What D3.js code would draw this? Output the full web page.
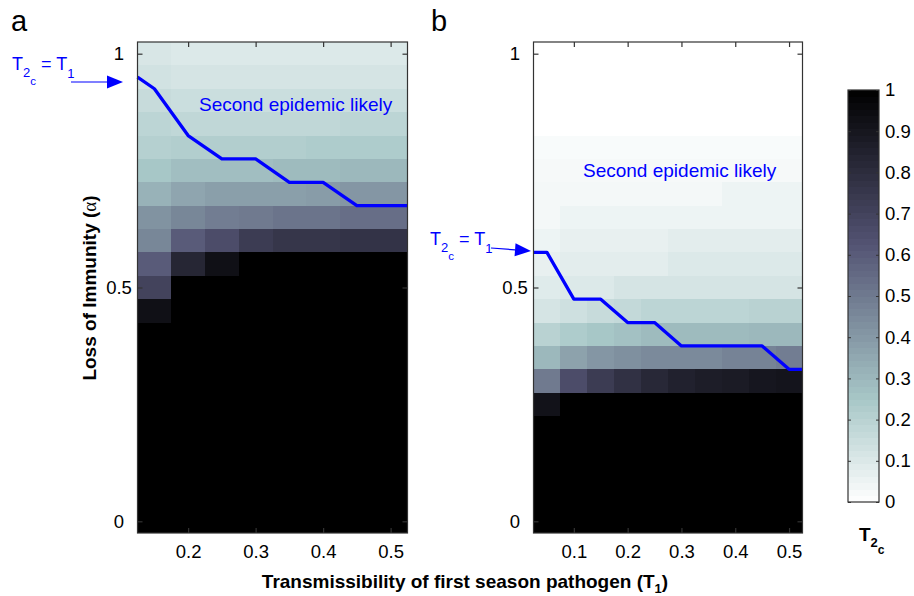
<!DOCTYPE html>
<html>
<head>
<meta charset="utf-8">
<script src="https://cdn.jsdelivr.net/npm/d3@7"></script>
<style>
  body { margin: 0; background: #fff; }
  text { font-family: "Liberation Sans", Arial, sans-serif; }
</style>
</head>
<body>
<svg id="svg" width="914" height="596"></svg>
<script>
// T1 columns and alpha rows (rows listed top -> bottom)
const tA = [0.15, 0.2, 0.25, 0.3, 0.35, 0.4, 0.45, 0.5];
const tB = [0.05, 0.1, 0.15, 0.2, 0.25, 0.3, 0.35, 0.4, 0.45, 0.5];
const alphas = [1, 0.95, 0.9, 0.85, 0.8, 0.75, 0.7, 0.65, 0.6, 0.55, 0.5,
                0.45, 0.4, 0.35, 0.3, 0.25, 0.2, 0.15, 0.1, 0.05, 0];

// T2c values, panel a
const zA = [
  [0.11, 0.10, 0.10, 0.10, 0.10, 0.10, 0.10, 0.10],
  [0.13, 0.12, 0.12, 0.12, 0.12, 0.12, 0.12, 0.12],
  [0.16, 0.15, 0.15, 0.15, 0.15, 0.15, 0.15, 0.15],
  [0.19, 0.18, 0.18, 0.18, 0.18, 0.18, 0.19, 0.19],
  [0.21, 0.22, 0.22, 0.22, 0.22, 0.23, 0.23, 0.23],
  [0.25, 0.28, 0.28, 0.28, 0.29, 0.29, 0.30, 0.30],
  [0.32, 0.36, 0.38, 0.38, 0.38, 0.39, 0.41, 0.41],
  [0.42, 0.46, 0.49, 0.50, 0.52, 0.52, 0.54, 0.54],
  [0.46, 0.60, 0.66, 0.73, 0.76, 0.76, 0.77, 0.77],
  [0.60, 0.83, 0.93, 1, 1, 1, 1, 1],
  [0.70, 1, 1, 1, 1, 1, 1, 1],
  [0.93, 1, 1, 1, 1, 1, 1, 1],
  [1, 1, 1, 1, 1, 1, 1, 1],
  [1, 1, 1, 1, 1, 1, 1, 1],
  [1, 1, 1, 1, 1, 1, 1, 1],
  [1, 1, 1, 1, 1, 1, 1, 1],
  [1, 1, 1, 1, 1, 1, 1, 1],
  [1, 1, 1, 1, 1, 1, 1, 1],
  [1, 1, 1, 1, 1, 1, 1, 1],
  [1, 1, 1, 1, 1, 1, 1, 1],
  [1, 1, 1, 1, 1, 1, 1, 1]
];

// T2c values, panel b
const zB = [
  [0, 0, 0, 0, 0, 0, 0, 0, 0, 0],
  [0, 0, 0, 0, 0, 0, 0, 0, 0, 0],
  [0, 0, 0, 0, 0, 0, 0, 0, 0, 0],
  [0, 0, 0, 0, 0, 0, 0, 0, 0, 0],
  [0.02, 0.02, 0.02, 0.02, 0.02, 0.02, 0.02, 0.02, 0.02, 0.02],
  [0.025, 0.025, 0.025, 0.025, 0.025, 0.025, 0.025, 0.025, 0.025, 0.025],
  [0.03, 0.03, 0.03, 0.03, 0.03, 0.03, 0.03, 0.05, 0.05, 0.05],
  [0.03, 0.05, 0.05, 0.05, 0.05, 0.05, 0.05, 0.05, 0.05, 0.05],
  [0.05, 0.065, 0.065, 0.065, 0.065, 0.08, 0.08, 0.08, 0.08, 0.08],
  [0.065, 0.08, 0.08, 0.08, 0.08, 0.10, 0.10, 0.10, 0.10, 0.10],
  [0.09, 0.10, 0.10, 0.12, 0.12, 0.12, 0.12, 0.12, 0.12, 0.12],
  [0.12, 0.14, 0.16, 0.17, 0.19, 0.19, 0.19, 0.19, 0.20, 0.20],
  [0.20, 0.23, 0.25, 0.27, 0.29, 0.29, 0.29, 0.29, 0.30, 0.30],
  [0.30, 0.37, 0.41, 0.43, 0.45, 0.45, 0.45, 0.47, 0.47, 0.49],
  [0.50, 0.66, 0.73, 0.78, 0.82, 0.85, 0.87, 0.88, 0.90, 0.91],
  [0.92, 1, 1, 1, 1, 1, 1, 1, 1, 1],
  [1, 1, 1, 1, 1, 1, 1, 1, 1, 1],
  [1, 1, 1, 1, 1, 1, 1, 1, 1, 1],
  [1, 1, 1, 1, 1, 1, 1, 1, 1, 1],
  [1, 1, 1, 1, 1, 1, 1, 1, 1, 1],
  [1, 1, 1, 1, 1, 1, 1, 1, 1, 1]
];

// T2c = T1 contour
const lineA_T = [0.125, 0.15, 0.2, 0.25, 0.3, 0.35, 0.4, 0.45, 0.525];
const lineA_alpha = [0.95, 0.925, 0.825, 0.775, 0.775, 0.725, 0.725, 0.675, 0.675];
const lineB_T = [0.025, 0.05, 0.1, 0.15, 0.2, 0.25, 0.3, 0.45, 0.5, 0.525];
const lineB_alpha = [0.575, 0.575, 0.475, 0.475, 0.425, 0.425, 0.375, 0.375, 0.325, 0.325];

const ticksA = [0.2, 0.3, 0.4, 0.5];
const ticksB = [0.1, 0.2, 0.3, 0.4, 0.5];
const ticksY = [0, 0.5, 1];
const ticksC = [0, 0.1, 0.2, 0.3, 0.4, 0.5, 0.6, 0.7, 0.8, 0.9, 1];

const svg = d3.select("#svg"),
    half = 0.025,
    frameCol = "#333",
    blue = "#0000ff";

// matlab bone colormap, flipped (0 -> white, 1 -> black)
function boneR(v) {
    const x = 1 - Math.max(0, Math.min(1, v)),
        hr = Math.min(1, x / 0.375),
        hg = Math.max(0, Math.min(1, (x - 0.375) / 0.375)),
        hb = Math.max(0, (x - 0.75) / 0.25);
    return d3.rgb(255 * (7 * x + hb) / 8, 255 * (7 * x + hg) / 8, 255 * (7 * x + hr) / 8).toString();
}

const y = d3.scaleLinear().domain([-0.025, 1.025]).range([533, 42]);

function panel(xs, tVals, z, lT, lA, xticks) {
    const g = svg.append("g");
    const cells = [];
    z.forEach((row, i) => row.forEach((v, j) => cells.push({t: tVals[j], a: alphas[i], v: v})));
    g.selectAll("rect.cell").data(cells).enter().append("rect")
        .attr("class", "cell")
        .attr("x", d => xs(d.t - half))
        .attr("y", d => y(d.a + half))
        .attr("width", d => xs(d.t + half) - xs(d.t - half))
        .attr("height", d => y(d.a - half) - y(d.a + half))
        .attr("fill", d => boneR(d.v))
        .attr("shape-rendering", "crispEdges");

    const [x0, x1] = xs.range(), [y0, y1] = y.range();
    // line
    g.append("path")
        .datum(lT.map((t, i) => [t, lA[i]]))
        .attr("d", d3.line().x(d => xs(d[0])).y(d => y(d[1])))
        .style("fill", "none").style("stroke", blue).style("stroke-width", 3.3)
        .style("stroke-linejoin", "round");

    // frame
    g.append("rect").attr("x", x0).attr("y", y1).attr("width", x1 - x0).attr("height", y0 - y1)
        .style("fill", "none").style("stroke", frameCol).style("stroke-width", 1.2);

    g.append("g").attr("transform", `translate(0,${y0})`)
        .call(d3.axisBottom(xs).tickValues(xticks).tickSize(-5).tickPadding(12).tickFormat(d3.format(".1f")));
    g.append("g").attr("transform", `translate(0,${y1})`)
        .call(d3.axisTop(xs).tickValues(xticks).tickSize(-5).tickFormat(""));
    const left = g.append("g").attr("transform", `translate(${x0},0)`)
        .call(d3.axisLeft(y).tickValues(ticksY).tickSize(-5).tickPadding(18.5).tickFormat(d => d === 0 || d === 1 ? d : d3.format(".1f")(d)));
    g.append("g").attr("transform", `translate(${x1},0)`)
        .call(d3.axisRight(y).tickValues(ticksY).tickSize(-5).tickFormat(""));
    g.selectAll(".domain").remove();
    g.selectAll(".tick line").attr("stroke", frameCol).attr("stroke-width", 1.2);
    g.selectAll(".tick text").attr("fill", "#000").style("font-size", "18.5px").attr("font-family", null);
    left.selectAll("text").attr("text-anchor", "middle");
    return g;
}

const xA = d3.scaleLinear().domain([0.125, 0.525]).range([137.5, 407.5]);
const xB = d3.scaleLinear().domain([0.025, 0.525]).range([533.5, 802.5]);
panel(xA, tA, zA, lineA_T, lineA_alpha, ticksA);
panel(xB, tB, zB, lineB_T, lineB_alpha, ticksB);

// panel letters
svg.append("text").attr("x", 11).attr("y", 31).style("font-size", "29px").text("a");
svg.append("text").attr("x", 431).attr("y", 31).style("font-size", "29px").text("b");

// blue annotations
function t2cLabel(x, yy) {
    const t = svg.append("text").attr("x", x).attr("y", yy).attr("fill", blue).style("font-size", "18px");
    t.append("tspan").text("T");
    t.append("tspan").attr("dy", 7).style("font-size", "13px").text("2");
    t.append("tspan").attr("dy", 8).style("font-size", "11.5px").text("c");
    t.append("tspan").attr("dy", -15).text(" = T");
    t.append("tspan").attr("dy", 8).style("font-size", "13px").text("1");
}
function arrow(xa, ya, xb, yb) {
    const ang = Math.atan2(yb - ya, xb - xa), L = 16, W = 6.5;
    const bx = xb - L * Math.cos(ang), by = yb - L * Math.sin(ang);
    svg.append("line").attr("x1", xa).attr("y1", ya).attr("x2", bx).attr("y2", by)
        .attr("stroke", blue).attr("stroke-width", 1.2);
    svg.append("path")
        .attr("d", `M${xb},${yb}L${bx - W * Math.sin(ang)},${by + W * Math.cos(ang)}L${bx + W * Math.sin(ang)},${by - W * Math.cos(ang)}Z`)
        .attr("fill", blue);
}
t2cLabel(12, 70);
arrow(71, 82, 123, 82);
t2cLabel(430, 245);
arrow(491, 248, 531, 251);

svg.append("text").attr("x", 199).attr("y", 111).attr("fill", blue).style("font-size", "19px").text("Second epidemic likely");
svg.append("text").attr("x", 583).attr("y", 177).attr("fill", blue).style("font-size", "19px").text("Second epidemic likely");

// axis titles
const xt = svg.append("text").attr("x", 465).attr("y", 588).attr("text-anchor", "middle")
    .style("font-size", "19px").style("font-weight", "bold");
xt.append("tspan").text("Transmissibility of first season pathogen (T");
xt.append("tspan").attr("dy", 5).style("font-size", "13px").text("1");
xt.append("tspan").attr("dy", -5).text(")");

const yt = svg.append("text").attr("transform", "translate(96,288) rotate(-90)").attr("text-anchor", "middle")
    .style("font-size", "19px").style("font-weight", "bold");
yt.append("tspan").text("Loss of Immunity (");
yt.append("tspan").style("font-family", "'Liberation Serif', serif").style("font-weight", "normal").text("α");
yt.append("tspan").text(")");

// colorbar
const cb = svg.append("g"),
    cy = d3.scaleLinear().domain([0, 1]).range([502, 90]),
    cx0 = 848, cx1 = 879,
    nb = 64;
cb.selectAll("rect.band").data(d3.range(nb)).enter().append("rect")
    .attr("class", "band")
    .attr("x", cx0).attr("width", cx1 - cx0)
    .attr("y", i => cy((i + 1) / nb)).attr("height", i => cy(i / nb) - cy((i + 1) / nb) + 0.5)
    .attr("fill", i => boneR((i + 0.5) / nb))
    .attr("shape-rendering", "crispEdges");
cb.append("rect").attr("x", cx0).attr("y", cy(1)).attr("width", cx1 - cx0).attr("height", cy(0) - cy(1))
    .style("fill", "none").style("stroke", frameCol).style("stroke-width", 1.2);
const cax = cb.append("g").attr("transform", `translate(${cx1},0)`)
    .call(d3.axisRight(cy).tickValues(ticksC).tickSize(-3).tickPadding(6).tickFormat(d => d === 0 || d === 1 ? d : d3.format(".1f")(d)));
cb.append("g").attr("transform", `translate(${cx0},0)`)
    .call(d3.axisLeft(cy).tickValues(ticksC).tickSize(-3).tickFormat(""));
cb.selectAll(".domain").remove();
cb.selectAll(".tick line").attr("stroke", frameCol).attr("stroke-width", 1);
cax.selectAll(".tick text").attr("fill", "#000").style("font-size", "18.5px").attr("font-family", null);

const ct = cb.append("text").attr("x", 859).attr("y", 541).style("font-size", "19px").style("font-weight", "bold");
ct.append("tspan").text("T");
ct.append("tspan").attr("dy", 6).style("font-size", "13px").text("2");
ct.append("tspan").attr("dy", 7).style("font-size", "12px").text("c");
</script>
</body>
</html>
